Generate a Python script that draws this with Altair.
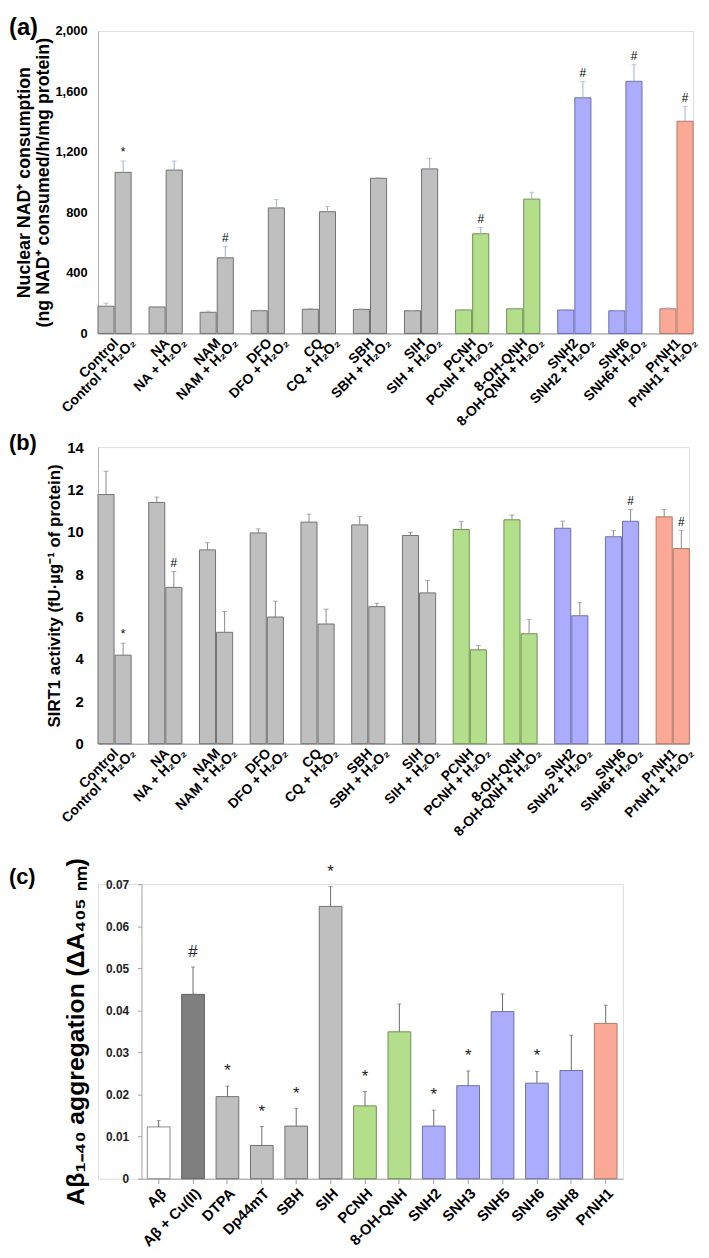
import altair as alt
import pandas as pd

FONT = "Liberation Sans"

# ---------------- data ----------------
groups = ["Control", "NA", "NAM", "DFO", "CQ", "SBH", "SIH", "PCNH",
          "8-OH-QNH", "SNH2", "SNH6", "PrNH1"]
h2o2_labels = ["Control + H₂O₂", "NA + H₂O₂", "NAM + H₂O₂", "DFO + H₂O₂",
               "CQ + H₂O₂", "SBH + H₂O₂", "SIH + H₂O₂", "PCNH + H₂O₂",
               "8-OH-QNH + H₂O₂", "SNH2 + H₂O₂", "SNH6+ H₂O₂", "PrNH1 + H₂O₂"]
group_class = ["grey"] * 7 + ["green"] * 2 + ["blue"] * 2 + ["salmon"]

# (a) nuclear NAD+ consumption
nad_base = [180, 175, 140, 150, 160, 159, 150, 155, 163, 155, 150, 163]
nad_base_err = [20, 3, 8, 4, 6, 3, 2, 3, 4, 3, 3, 6]
nad_h2o2 = [1065, 1080, 500, 830, 805, 1026, 1088, 659, 888, 1558, 1667, 1403]
nad_h2o2_err = [75, 60, 75, 55, 35, 4, 71, 41, 45, 107, 110, 97]
nad_marks = ["*", "", "#", "", "", "", "", "#", "", "#", "#", "#"]

# (b) SIRT1 activity
sirt_base = [11.76, 11.39, 9.15, 9.95, 10.46, 10.33, 9.83, 10.11, 10.57, 10.17, 9.77, 10.71]
sirt_base_err = [1.10, 0.25, 0.34, 0.19, 0.38, 0.40, 0.15, 0.37, 0.23, 0.34, 0.29, 0.34]
sirt_h2o2 = [4.18, 7.38, 5.26, 5.98, 5.65, 6.47, 7.12, 4.43, 5.19, 6.04, 10.50, 9.21]
sirt_h2o2_err = [0.56, 0.75, 0.98, 0.75, 0.70, 0.16, 0.59, 0.21, 0.68, 0.62, 0.55, 0.85]
sirt_marks = ["*", "#", "", "", "", "", "", "", "", "", "#", "#"]

# (c) Abeta aggregation
c_labels = ["Aβ", "Aβ + Cu(II)", "DTPA", "Dp44mT", "SBH", "SIH", "PCNH",
            "8-OH-QNH", "SNH2", "SNH3", "SNH5", "SNH6", "SNH8", "PrNH1"]
c_values = [0.0123, 0.0438, 0.0195, 0.0079, 0.0125, 0.0647, 0.0173,
            0.0349, 0.0125, 0.0221, 0.0397, 0.0227, 0.0257, 0.0369]
c_err = [0.0015, 0.0065, 0.0025, 0.0045, 0.0042, 0.0047, 0.0034,
         0.0066, 0.0038, 0.0035, 0.0042, 0.0028, 0.0084, 0.0043]
c_marks = ["", "#", "*", "*", "*", "*", "*", "", "*", "*", "", "*", "", ""]
c_class = ["white", "dark", "grey", "grey", "grey", "grey", "green", "green",
           "blue", "blue", "blue", "blue", "blue", "salmon"]

# ---------------- styling ----------------
cls_domain = ["white", "dark", "grey", "green", "blue", "salmon"]
fill_range = ["#ffffff", "#7f7f7f", "#bfbfbf", "#b3df8a", "#abadfc", "#fca897"]
stroke_range = ["#8a8a8a", "#5e5e5e", "#707070", "#6f8f55", "#6c6fa8", "#b07868"]
fill_scale = alt.Scale(domain=cls_domain, range=fill_range)
stroke_scale = alt.Scale(domain=cls_domain, range=stroke_range)


def paired_frame(base, base_err, treat, treat_err, marks):
    rows = []
    for i, g in enumerate(groups):
        rows.append(dict(group=g, cond="base", label=g, value=base[i],
                         top=base[i] + base_err[i], mark="", cls=group_class[i]))
        rows.append(dict(group=g, cond="h2o2", label=h2o2_labels[i], value=treat[i],
                         top=treat[i] + treat_err[i], mark=marks[i], cls=group_class[i]))
    return pd.DataFrame(rows)


def letter_title(text, dx, offset, size):
    return alt.TitleParams(text, anchor="start", frame="group", dx=dx,
                           baseline="top", offset=offset, fontSize=size, fontWeight="bold",
                           font=FONT, color="black")


def paired_panel(df, ydomain, yvalues, ylabel_expr, ytitle, title_size, tick_size,
                 width, height, letter, t_offset, t_size, err_colour, label_pad, title_pad):
    x = alt.X("group:N", sort=groups,
              scale=alt.Scale(paddingInner=0.35, paddingOuter=0),
              axis=alt.Axis(labels=False, ticks=False, title=None,
                            domainColor="#9a9a9a", domainWidth=1))
    xo = alt.XOffset("cond:N", sort=["base", "h2o2"],
                     scale=alt.Scale(paddingInner=0.06))
    axis = alt.Axis(values=yvalues, labelExpr=ylabel_expr, title=ytitle, titleFont=FONT,
                    titleFontSize=title_size, titleFontWeight="bold", titleColor="black",
                    labelFont=FONT, labelFontSize=tick_size, labelFontWeight="bold",
                    labelColor="black", ticks=False, grid=False, domainColor="#b0b0b0",
                    labelPadding=label_pad, titlePadding=title_pad)
    yscale = alt.Scale(domain=ydomain, nice=False, zero=True)
    y = alt.Y("value:Q", scale=yscale, axis=axis)
    y_top = alt.Y("top:Q", scale=yscale, axis=axis)
    base = alt.Chart(df)
    bars = base.mark_bar(strokeWidth=1).encode(
        x=x, xOffset=xo, y=y,
        fill=alt.Fill("cls:N", scale=fill_scale, legend=None),
        stroke=alt.Stroke("cls:N", scale=stroke_scale, legend=None))
    err = base.mark_rule(color=err_colour, strokeWidth=1).encode(
        x=x, xOffset=xo, y=y, y2="top:Q")
    cap = base.mark_tick(color=err_colour, size=5, thickness=1).encode(
        x=x, xOffset=xo, y=y_top)
    notes = base.mark_text(fontSize=12, font=FONT, baseline="bottom", dy=-2,
                           color="black").encode(x=x, xOffset=xo, y=y_top, text="mark:N")
    labels = base.mark_text(angle=315, align="right", baseline="middle", dx=2, dy=13,
                            fontSize=14, fontWeight="bold", font=FONT,
                            color="black").encode(
        x=x, xOffset=xo, y=alt.datum(0), text="label:N")
    return alt.layer(bars, err, cap, notes, labels).properties(
        width=width, height=height,
        title=letter_title(letter, -90, t_offset, t_size))


df_a = paired_frame(nad_base, nad_base_err, nad_h2o2, nad_h2o2_err, nad_marks)
df_b = paired_frame(sirt_base, sirt_base_err, sirt_h2o2, sirt_h2o2_err, sirt_marks)

panel_a = paired_panel(
    df_a, [0, 2000], list(range(0, 2001, 200)), "format(datum.value, ',')",
    ["Nuclear NAD⁺ consumption", "(ng NAD⁺ consumed/h/mg protein)"],
    18, 13, 602, 306, "(a)", -15, 24, "#9fb0c8", 11, 2)

panel_b = paired_panel(
    df_b, [0, 14], list(range(0, 15, 2)), "format(datum.value, 'd')",
    "SIRT1 activity (fU·µg⁻¹ of protein)",
    17, 15, 598, 300, "(b)", -15, 22, "#8a8a8a", 15, 3)

# ---------------- panel (c) ----------------
# plot origin is shared with (a)/(b); the axis is shifted right to sit where the
# reference draws it, and the band range starts at the same place.
C_SHIFT = 44
C_WIDTH = 531
df_c = pd.DataFrame(dict(label=c_labels, value=c_values,
                         top=[v + e for v, e in zip(c_values, c_err)],
                         mark=c_marks, cls=c_class))
xc = alt.X("label:N", sort=c_labels,
           scale=alt.Scale(range=[C_SHIFT, C_WIDTH], paddingInner=0.34, paddingOuter=0.17),
           axis=alt.Axis(title=None, labelAngle=-45, labelFont=FONT, labelFontSize=15,
                         labelFontWeight="bold", labelColor="black",
                         tickColor="#a0a0a0", tickSize=5, domainColor="#a0a0a0",
                         labelPadding=2))
axis_c = alt.Axis(values=[0, 0.01, 0.02, 0.03, 0.04, 0.05, 0.06, 0.07],
                  labelExpr="datum.value == 0 ? '0' : format(datum.value, '.2f')",
                  title="Aβ₁₋₄₀ aggregation (ΔA₄₀₅ ₙₘ)", titleFont=FONT,
                  titleFontSize=25, titleFontWeight="bold", titleColor="black",
                  labelFont=FONT, labelFontSize=12, labelFontWeight="bold",
                  labelColor="#222222", tickColor="#a0a0a0", tickSize=4, grid=False,
                  domainColor="#a0a0a0", labelPadding=9, titlePadding=17,
                  offset=-C_SHIFT)
yscale_c = alt.Scale(domain=[0, 0.07], nice=False, zero=True)
yc = alt.Y("value:Q", scale=yscale_c, axis=axis_c)
yc_top = alt.Y("top:Q", scale=yscale_c, axis=axis_c)
base_c = alt.Chart(df_c)
bars_c = base_c.mark_bar(strokeWidth=1).encode(
    x=xc, y=yc,
    fill=alt.Fill("cls:N", scale=fill_scale, legend=None),
    stroke=alt.Stroke("cls:N", scale=stroke_scale, legend=None))
err_c = base_c.mark_rule(color="#6a6a6a", strokeWidth=1).encode(x=xc, y=yc, y2="top:Q")
cap_c = base_c.mark_tick(color="#6a6a6a", size=4, thickness=1).encode(x=xc, y=yc_top)
notes_c = base_c.mark_text(fontSize=17, font=FONT, baseline="bottom", dy=-6,
                           color="#222222").encode(x=xc, y=yc_top, text="mark:N")
panel_c = alt.layer(bars_c, err_c, cap_c, notes_c).properties(
    width=C_WIDTH, height=298, title=letter_title("(c)", -90, -31, 22))

top_two = alt.vconcat(panel_a, panel_b, spacing=1)
chart = alt.vconcat(top_two, panel_c, spacing=16).properties(padding=0).configure_view(
    stroke=None).configure(font=FONT)

chart.save("out.html", embed_options={"renderer": "svg", "actions": False})
